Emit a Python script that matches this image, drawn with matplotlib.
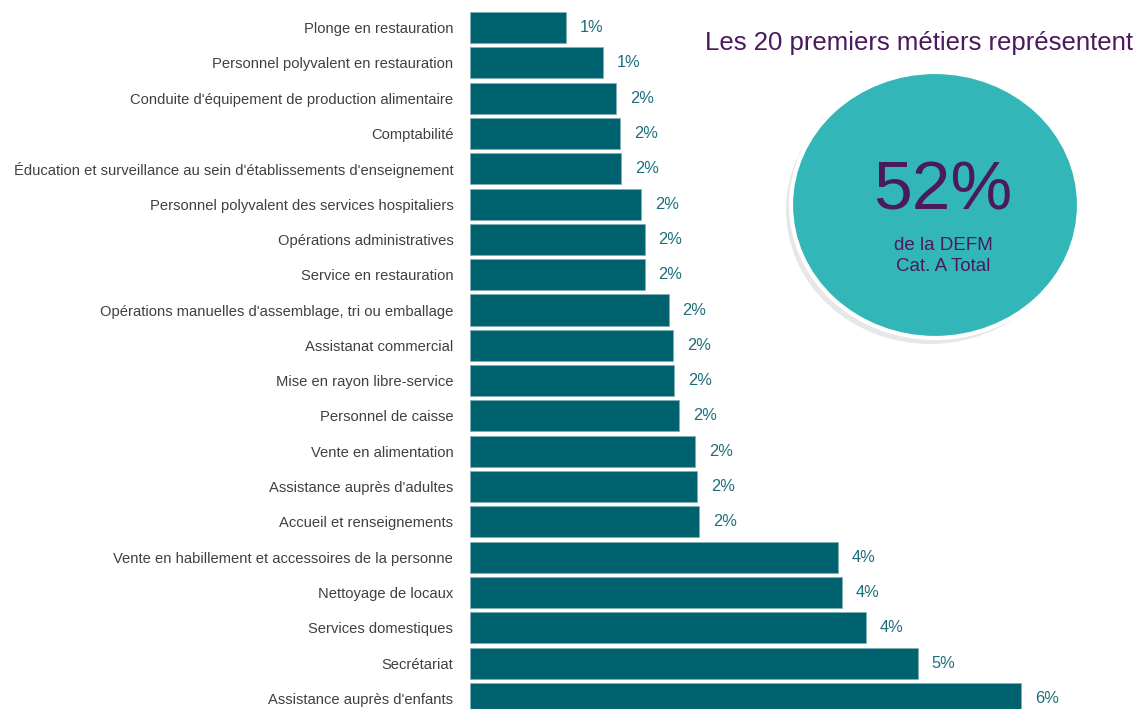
import matplotlib
matplotlib.use("Agg")
from matplotlib import pyplot as plt
from matplotlib.patches import Ellipse

plt.rcParams['font.family'] = ['Liberation Sans', 'DejaVu Sans']

# job families, top to bottom
metiers = [
    "Plonge en restauration",
    "Personnel polyvalent en restauration",
    "Conduite d'équipement de production alimentaire",
    "Comptabilité",
    "Éducation et surveillance au sein d'établissements d'enseignement",
    "Personnel polyvalent des services hospitaliers",
    "Opérations administratives",
    "Service en restauration",
    "Opérations manuelles d'assemblage, tri ou emballage",
    "Assistanat commercial",
    "Mise en rayon libre-service",
    "Personnel de caisse",
    "Vente en alimentation",
    "Assistance auprès d'adultes",
    "Accueil et renseignements",
    "Vente en habillement et accessoires de la personne",
    "Nettoyage de locaux",
    "Services domestiques",
    "Secrétariat",
    "Assistance auprès d'enfants",
]
# share of DEFM cat. A (%)
parts = [1.04, 1.45, 1.59, 1.63, 1.64, 1.86, 1.90, 1.90, 2.16, 2.21,
         2.22, 2.27, 2.45, 2.47, 2.49, 4.00, 4.04, 4.30, 4.87, 5.99]

total = 52

W, H = 1136, 709
fig = plt.figure(figsize=(W / 100, H / 100), dpi=100)
ax = fig.add_axes([470 / W, 0, (W - 470) / W, 1])

bar_col = "#00626E"
lab_col = "#1B6F7B"
purple = "#4A1A5C"

y = list(range(len(metiers)))
ax.barh(y, parts, height=0.88, color=bar_col, edgecolor="#7fb0b6", linewidth=0.6)
for yi, v in zip(y, parts):
    ax.text(v + 0.15, yi, f"{v:.0f}%", va="center", ha="left", fontsize=11.8, color=lab_col)

ax.set_xlim(0, (W - 470) / 92)
ax.set_ylim(19.3, -0.78)
ax.set_yticks(y)
ax.set_yticklabels(metiers, fontsize=10.6, color="#404040")
ax.tick_params(axis="y", length=0, pad=12)
ax.set_xticks([])
for s in ax.spines.values():
    s.set_visible(False)

# overlay in pixel coordinates for the bubble
ov = fig.add_axes([0, 0, 1, 1], facecolor="none")
ov.set_xlim(0, W)
ov.set_ylim(H, 0)
ov.axis("off")
ov.add_patch(Ellipse((930, 210), 288, 268, facecolor="#a0a0a0", alpha=0.25, edgecolor="none"))
ov.add_patch(Ellipse((935, 205), 288, 266, facecolor="#33B6B7", edgecolor="white", linewidth=3))
ov.text(943, 192, f"{total}%", fontsize=50, color=purple, ha="center", va="center")
ov.text(943, 256, "de la DEFM\nCat. A Total", fontsize=13.5, color=purple, ha="center",
        va="center", linespacing=1.25)
ov.text(1133, 43, "Les 20 premiers métiers représentent", fontsize=18.5, color=purple,
        ha="right", va="center")

fig.savefig("out.png", dpi=100)
